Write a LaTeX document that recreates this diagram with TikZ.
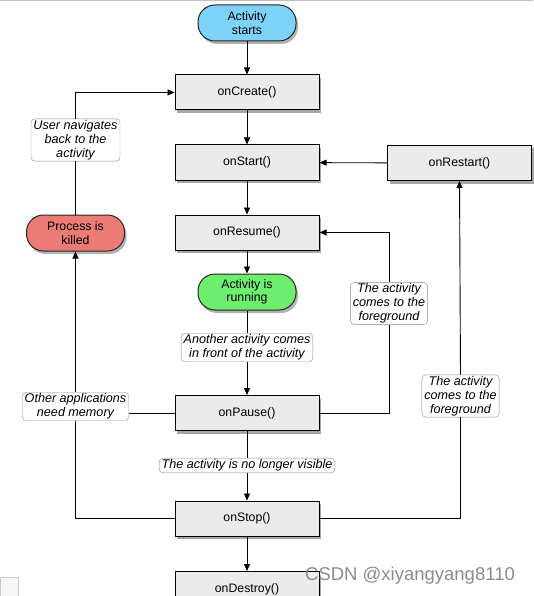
\documentclass[tikz,border=0pt]{standalone}
\usepackage{fontspec}
\setmainfont{Liberation Sans}
\usetikzlibrary{shadows,arrows.meta}
\definecolor{boxgray}{HTML}{EBEBEB}
\definecolor{pillblue}{HTML}{7DD3F7}
\definecolor{pillgreen}{HTML}{6EEE6E}
\definecolor{pillred}{HTML}{EC7B76}
\begin{document}
\begin{tikzpicture}[x=1pt,y=-1pt,
  method/.style={draw=black, line width=1pt, fill=boxgray, minimum width=144pt, minimum height=35pt, inner sep=0pt,
    font=\fontsize{12.3}{14}\selectfont,
    drop shadow={shadow xshift=2pt, shadow yshift=-3pt, opacity=0.35, fill=black}},
  pill/.style={draw=black!85, line width=1pt, rounded corners=17pt, minimum width=98pt, minimum height=36pt, inner sep=0pt,
    align=center, font=\fontsize{12.3}{13.5}\selectfont,
    drop shadow={shadow xshift=2pt, shadow yshift=-3pt, opacity=0.3, fill=black}},
  note/.style={draw=black!45, fill=white, rounded corners=4pt, inner xsep=2.5pt, inner ysep=1.5pt, align=center,
    font=\fontsize{12.6}{13.8}\selectfont\itshape},
  arr/.style={-{Triangle[length=7pt,width=6pt]}, line width=0.9pt},
  conn/.style={line width=0.9pt}]
\useasboundingbox (0,0) rectangle (533,596);
\draw[black!25, line width=1pt] (0,0.5) -- (533,0.5);

% methods
\node[pill, fill=pillblue] (start) at (247,23) {Activity\\starts};
\node[method] (create) at (247,92.5) {\raisebox{-1pt}{onCreate()}};
\node[method] (startm) at (247,162.5) {\raisebox{-1pt}{onStart()}};
\node[method] (restart) at (459.5,163) {\raisebox{-1pt}{onRestart()}};
\node[method] (resume) at (247,232.5) {\raisebox{-1pt}{onResume()}};
\node[pill, fill=pillgreen] (run) at (247,292) {Activity is\\running};
\node[method] (pause) at (247,413) {\raisebox{-1pt}{onPause()}};
\node[method] (stop) at (247,518.5) {\raisebox{-1pt}{onStop()}};
\node[method] (destroy) at (247,589) {\raisebox{-1pt}{onDestroy()}};
\node[pill, fill=pillred] (killed) at (75.5,233) {Process is\\killed};

% notes
\node[note] (user) at (75.5,140) {User navigates\\back to the\\activity};
\node[note] (mem) at (75.5,406.5) {Other applications\\need memory};
\node[note] (another) at (247,347.5) {Another activity comes\\in front of the activity};
\node[note] (novis) at (247,465.5) {The activity is no longer visible};
\node[note] (fg1) at (389,303.5) {The activity\\comes to the\\foreground};
\node[note] (fg2) at (460.5,396) {The activity\\comes to the\\foreground};

% connectors
\draw[arr] (start) -- (create);
\draw[arr] (create) -- (startm);
\draw[arr] (startm) -- (resume);
\draw[arr] (resume) -- (run);
\draw[conn] (run) -- (another);
\draw[arr] (another) -- (pause);
\draw[conn] (pause) -- (novis);
\draw[arr] (novis) -- (stop);
\draw[arr] (stop) -- (destroy);
\draw[arr] (restart) -- (startm);
\draw[conn] (pause.east) -| (fg1.south);
\draw[arr] (fg1.north) |- (resume.east);
\draw[conn] (stop.east) -| (fg2.south);
\draw[arr] (fg2.north) -- (restart.south);
\draw[conn] (pause.west) -- (pause.west -| mem.east);
\draw[conn] (stop.west) -| (mem.south);
\draw[arr] (mem.north) -- (killed.south);
\draw[conn] (killed.north) -- (user.south);
\draw[arr] (user.north) |- (create.west);

% artefacts
\node[draw=black!20, fill=black!3, minimum width=18pt, minimum height=20pt, inner sep=0pt, anchor=south west] (corner) at (0,597) {};
\node[text=black!45, font=\fontsize{18.5}{18.5}\selectfont] (wm) at (410,576) {CSDN @xiyangyang8110};
\end{tikzpicture}
\end{document}
